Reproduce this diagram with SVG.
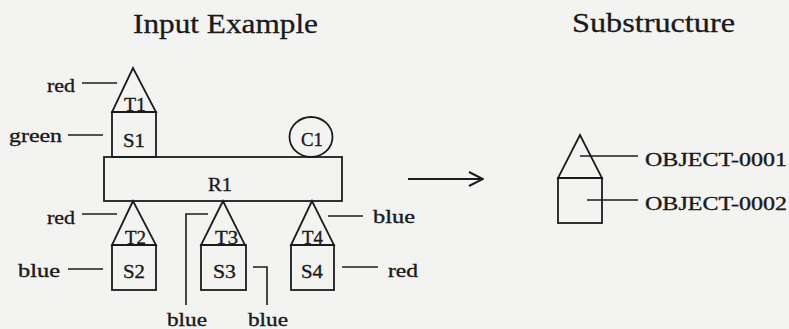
<svg xmlns="http://www.w3.org/2000/svg" width="789" height="329" viewBox="0 0 789 329">
<defs>
<style>
.shape{fill:none;stroke:#1c1c1c;stroke-width:1.8;stroke-linejoin:miter}
.conn{fill:none;stroke:#1c1c1c;stroke-width:1.6}
.t{font-family:"Liberation Serif","Times New Roman",serif;font-size:19px;fill:#1a1a1a;stroke:#1a1a1a;stroke-width:0.35}
.title{font-family:"Liberation Serif","Times New Roman",serif;font-size:27px;fill:#1a1a1a;stroke:#1a1a1a;stroke-width:0.3}
</style>
<marker id="chev" viewBox="0 0 16 16" refX="15" refY="8" markerWidth="16" markerHeight="16" markerUnits="userSpaceOnUse" orient="auto">
<path d="M1,1 L15,8 L1,15" fill="none" stroke="#1c1c1c" stroke-width="2"/>
</marker>
</defs>
<rect width="789" height="329" fill="#f3f3f1"/>
<g id="titles">
<text class="title" x="133" y="33" textLength="185" lengthAdjust="spacingAndGlyphs">Input Example</text>
<text class="title" x="572" y="32" textLength="163" lengthAdjust="spacingAndGlyphs">Substructure</text>
</g>
<g id="T1"><path class="shape" d="M133,68 L112,112 L156,112 Z"/><text class="t" x="124" y="111" textLength="22" lengthAdjust="spacingAndGlyphs">T1</text></g>
<g id="S1"><rect class="shape" x="112" y="112" width="44" height="45"/><text class="t" x="123" y="147" textLength="22" lengthAdjust="spacingAndGlyphs">S1</text></g>
<g id="C1"><ellipse class="shape" cx="311" cy="137" rx="21.5" ry="20"/><text class="t" x="301" y="146" textLength="22" lengthAdjust="spacingAndGlyphs">C1</text></g>
<g id="R1"><rect class="shape" x="104" y="157" width="238" height="44"/><text class="t" x="208" y="191" textLength="24" lengthAdjust="spacingAndGlyphs">R1</text></g>
<g id="T2"><path class="shape" d="M133,201 L112,245 L156,245 Z"/><text class="t" x="125" y="244" textLength="21" lengthAdjust="spacingAndGlyphs">T2</text></g>
<g id="S2"><rect class="shape" x="112" y="245" width="44" height="45"/><text class="t" x="123" y="278" textLength="22" lengthAdjust="spacingAndGlyphs">S2</text></g>
<g id="T3"><path class="shape" d="M223,201 L201,245 L245,245 Z"/><text class="t" x="215" y="244" textLength="23" lengthAdjust="spacingAndGlyphs">T3</text></g>
<g id="S3"><rect class="shape" x="201" y="245" width="45" height="45"/><text class="t" x="213" y="278" textLength="23" lengthAdjust="spacingAndGlyphs">S3</text></g>
<g id="T4"><path class="shape" d="M312,201 L291,245 L334,245 Z"/><text class="t" x="302" y="244" textLength="21" lengthAdjust="spacingAndGlyphs">T4</text></g>
<g id="S4"><rect class="shape" x="291" y="245" width="43" height="45"/><text class="t" x="301" y="278" textLength="22" lengthAdjust="spacingAndGlyphs">S4</text></g>
<g id="SubT"><path class="shape" d="M580,135 L558,178 L602,178 Z"/></g>
<g id="SubS"><rect class="shape" x="558" y="178" width="44" height="45"/></g>
<g id="labels">
<text class="t" x="47" y="92" textLength="28" lengthAdjust="spacingAndGlyphs">red</text>
<text class="t" x="9" y="142" textLength="53" lengthAdjust="spacingAndGlyphs">green</text>
<text class="t" x="47" y="224" textLength="28" lengthAdjust="spacingAndGlyphs">red</text>
<text class="t" x="18" y="277" textLength="42" lengthAdjust="spacingAndGlyphs">blue</text>
<text class="t" x="373" y="223" textLength="42" lengthAdjust="spacingAndGlyphs">blue</text>
<text class="t" x="388" y="277" textLength="30" lengthAdjust="spacingAndGlyphs">red</text>
<text class="t" x="167" y="326" textLength="40" lengthAdjust="spacingAndGlyphs">blue</text>
<text class="t" x="248" y="326" textLength="40" lengthAdjust="spacingAndGlyphs">blue</text>
<text class="t" x="645" y="166" textLength="142" lengthAdjust="spacingAndGlyphs">OBJECT-0001</text>
<text class="t" x="645" y="210" textLength="142" lengthAdjust="spacingAndGlyphs">OBJECT-0002</text>
</g>
<g id="connectors">
<line class="conn" x1="82" y1="83" x2="117" y2="83"/>
<line class="conn" x1="68" y1="135" x2="103" y2="135"/>
<line class="conn" x1="82" y1="214" x2="117" y2="214"/>
<line class="conn" x1="68" y1="269" x2="103" y2="269"/>
<polyline class="conn" points="208,214 186,214 186,305"/>
<polyline class="conn" points="253,267 267,267 267,305"/>
<line class="conn" x1="328" y1="216" x2="363" y2="216"/>
<line class="conn" x1="342" y1="267" x2="378" y2="267"/>
<line class="conn" x1="580" y1="156" x2="638" y2="156"/>
<line class="conn" x1="587" y1="200" x2="638" y2="200"/>
<line x1="408" y1="179" x2="483" y2="179" stroke="#1c1c1c" stroke-width="2" marker-end="url(#chev)"/>
</g>
</svg>
